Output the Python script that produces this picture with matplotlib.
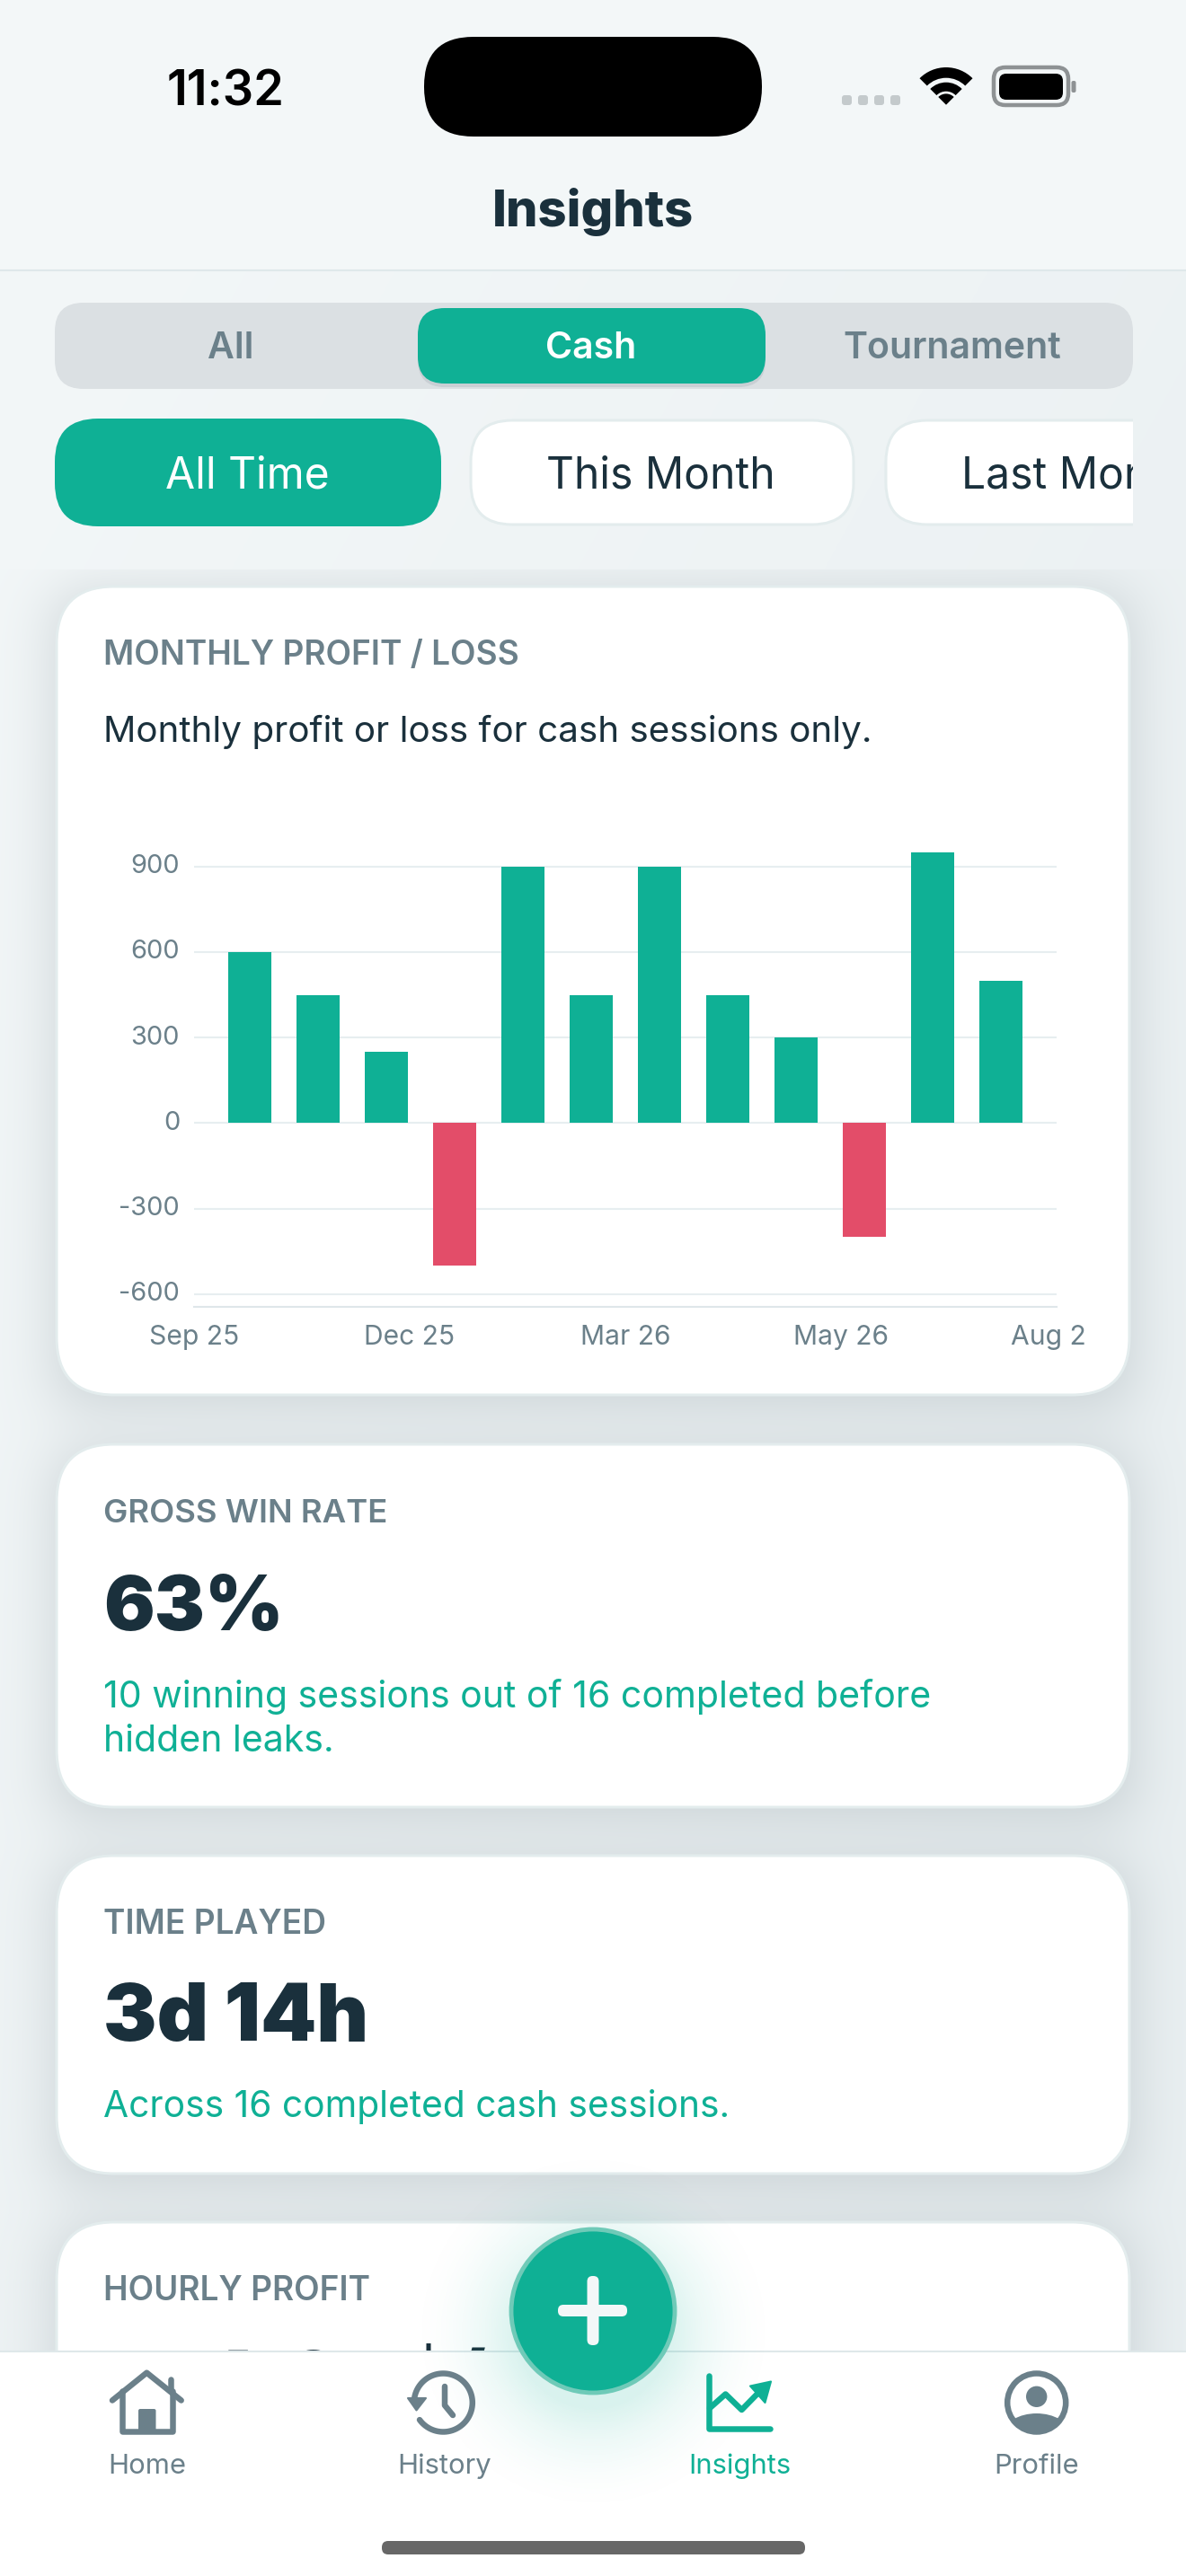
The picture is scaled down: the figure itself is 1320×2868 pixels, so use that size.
"""
Insights screen: monthly profit / loss for cash sessions.
"""
import math
import numpy as np
import matplotlib
matplotlib.use("Agg")
import matplotlib.pyplot as plt
from matplotlib.patches import Circle, Ellipse, FancyBboxPatch, Polygon, Rectangle, Wedge
from matplotlib.transforms import Bbox, ScaledTranslation

# -----------------------------
# Data
# -----------------------------
months = ["Sep 25", "Oct 25", "Nov 25", "Dec 25", "Jan 26", "Feb 26",
          "Mar 26", "Apr 26", "May 26", "Jun 26", "Jul 26", "Aug 26"]
profit = [600, 450, 250, -500, 900, 450, 900, 450, 300, -400, 950, 500]
y_ticks = [-600, -300, 0, 300, 600, 900]
x_labels = ["Sep 25", "Dec 25", "Mar 26", "May 26", "Aug 26"]
segments = ["All", "Cash", "Tournament"]
chips = ["All Time", "This Month", "Last Month"]
tabs = ["Home", "History", "Insights", "Profile"]

TEAL = "#0fb095"
RED = "#e34d69"
DARK = "#1a303c"
GREY = "#6b808a"
LINE = "#e3eced"
FONT = "Inter"

plt.rcParams["font.family"] = [FONT, "DejaVu Sans"]

fig = plt.figure(figsize=(13.2, 28.68), dpi=100, facecolor="#f3f7f8")
ax = fig.add_axes([0, 0, 1, 1])
ax.axis("off")


def pill(x0, y0, x1, y1, r, fc, ec="none", lw=0, z=3):
    p = FancyBboxPatch((x0 + r, y0 + r), x1 - x0 - 2 * r, y1 - y0 - 2 * r,
                       boxstyle=f"round,pad={r},rounding_size={r}",
                       fc=fc, ec=ec, lw=lw * 0.72, zorder=z, mutation_aspect=1)
    ax.add_patch(p)
    return p


def put(x, y, s, px, color=DARK, weight="normal", ha="left", z=6, va="baseline"):
    return ax.text(x, y, s, fontsize=px * 0.72, color=color, fontweight=weight,
                   ha=ha, va=va, zorder=z)


def stroke(xs, ys, color, lw=6.5, z=9):
    ax.plot(xs, ys, color=color, lw=lw * 0.72, solid_capstyle="round",
            solid_joinstyle="round", zorder=z)


# -----------------------------
# Background and card shadows
# -----------------------------
W, H = 1320, 2868
cards = [(63, 653, 1257, 1553), (63, 1608, 1257, 2012),
         (63, 2066, 1257, 2420), (63, 2474, 1257, 2760)]

xx = np.arange(W) + 0.5
yy = np.arange(H) + 0.5
erf = np.vectorize(math.erf)


def soft_edge(t, s):
    return 0.5 * (1 + erf(t / (s * math.sqrt(2))))


tx = xx / W
ty = (yy - 301) / (H - 301)
mix = np.clip(0.6 * tx[None, :] + 0.4 * ty[:, None] * 1.6, 0, 1)
mix[:301, :] = 0
c0 = np.array([0xf3, 0xf7, 0xf8]) / 255
c1 = np.array([0xe9, 0xef, 0xf1]) / 255
bg = c0[None, None, :] * (1 - mix[..., None]) + c1[None, None, :] * mix[..., None]

sigma, offset, strength = 32, 10, 0.17
keep = np.ones((H, W))
for x0, y0, x1, y1 in cards:
    mx = soft_edge(xx - x0, sigma) * soft_edge(x1 - xx, sigma)
    my = soft_edge(yy - y0 - offset, sigma) * soft_edge(y1 + offset - yy, sigma)
    keep *= 1 - strength * my[:, None] * mx[None, :]
keep[:634, :] = 1
shadow = np.array([0x1a, 0x30, 0x3c]) / 255
bg = bg * keep[..., None] + shadow[None, None, :] * (1 - keep[..., None])
ax.imshow(bg, extent=(0, W, H, 0), aspect="auto", zorder=0, interpolation="nearest")

ax.set_xlim(0, W)
ax.set_ylim(H, 0)

# шапка
ax.add_patch(Rectangle((0, 0), W, 301, fc="#f3f7f8", ec="none", zorder=1))
ax.plot([0, W], [301, 301], color="#dfe8ea", lw=1.5, zorder=2)

put(251, 118, "11:32", 54, color="black", weight="semibold", ha="center")
pill(472, 41, 848, 152, 55, "black")
for dx in (937, 955, 973, 991):
    pill(dx, 106, dx + 11, 117, 3, "#c4cacc")
for r_out, r_in in ((41.7, 30), (25, 15), (12.3, 0)):
    ax.add_patch(Wedge((1053, 116.7), r_out, 225, 315, width=r_out - r_in,
                       fc="black", ec="none", zorder=4))
pill(1106, 75, 1189, 117, 13, "none", ec="#8e9294", lw=4.5)
pill(1112, 82, 1183, 111, 8, "black")
pill(1192.5, 90, 1197.5, 103, 2, "#8e9294")

put(660, 252, "Insights", 56, weight="heavy", ha="center")

# -----------------------------
# Segmented control and chips
# -----------------------------
pill(61, 337, 1261, 433, 32, "#dbe0e3")
pill(465, 347, 852, 431, 30, "#c9cfd4", z=3)
pill(465, 343, 852, 427, 30, TEAL, z=4)
for cx, label in zip((257, 658, 1060), segments):
    put(cx, 399, label, 41, color="white" if label == "Cash" else GREY,
        weight="semibold", ha="center")

pill(61, 466, 491, 586, 48, TEAL)
pill(524, 468, 950, 584, 46, "white", ec=LINE, lw=3)
last_chip = pill(986, 468, 1320, 584, 46, "white", ec=LINE, lw=3)
clip_rect = Rectangle((0, 0), 1261, H, transform=ax.transData)
last_chip.set_clip_path(clip_rect)
put(275, 543, chips[0], 48, color="white", ha="center")
put(735, 543, chips[1], 48, ha="center")
t = put(1070, 543, chips[2], 48)
t.set_clip_on(True)
t.set_clip_path(clip_rect)

# -----------------------------
# Cards
# -----------------------------
for x0, y0, x1, y1 in cards:
    pill(x0, y0, x1, y1, 64, "white", ec=LINE, lw=3)

put(115, 740, "MONTHLY PROFIT / LOSS", 37, color=GREY, weight="semibold")
put(115, 826, "Monthly profit or loss for cash sessions only.", 40.4)

put(115, 1695, "GROSS WIN RATE", 36.5, color=GREY, weight="semibold")
put(115, 1815, "63%", 84, weight="black")
put(115, 1900.7, "10 winning sessions out of 16 completed before", 41, color=TEAL)
put(115, 1950, "hidden leaks.", 41, color=TEAL)

put(115, 2153, "TIME PLAYED", 37, color=GREY, weight="semibold")
put(115, 2272, "3d 14h", 89, weight="black")
put(115, 2357, "Across 16 completed cash sessions.", 40.7, color=TEAL)

put(115, 2560.6, "HOURLY PROFIT", 37, color=GREY, weight="semibold")
put(115, 2680, "+74.07 $/h", 86, weight="black")

# -----------------------------
# Bottom bar
# -----------------------------
ax.add_patch(Rectangle((0, 2618), W, H - 2618, fc="white", ec="none", zorder=7))
ax.plot([0, W], [2618, 2618], color="#dfe8ea", lw=1.5, zorder=7.5)

gx, gy = np.meshgrid(np.arange(430, 891), np.arange(2360, 2821))
dist = np.hypot(gx - 660, gy - 2595)
glow = np.zeros(gx.shape + (4,))
glow[..., :3] = matplotlib.colors.to_rgb(TEAL)
glow[..., 3] = 0.16 * np.clip(1 - (dist - 85) / 130, 0, 1) ** 2.2
ax.imshow(glow, extent=(430, 891, 2821, 2360), aspect="auto", zorder=8)
ax.set_xlim(0, W)
ax.set_ylim(H, 0)

ax.add_patch(Circle((660, 2573), 91, fc=TEAL, ec="#6fcab8", lw=3.5, zorder=10))
pill(653.5, 2534, 666.5, 2611, 6, "#f3f7f8", z=11)
pill(621, 2566, 698, 2579, 6, "#f3f7f8", z=11)

# Home
stroke([125, 163.3, 201.7], [2672.5, 2641.7, 2672.5], GREY)
stroke([136, 136, 192, 192], [2662, 2707, 2707, 2662], GREY)
stroke([190, 190], [2649, 2660], GREY)
pill(154, 2682, 173.5, 2708, 2, GREY, z=9)

# History
arc = np.radians(np.linspace(216, 530, 80))
stroke(493.3 + 32.5 * np.cos(arc), 2675 - 32.5 * np.sin(arc), GREY)
ax.add_patch(Polygon([(454, 2670), (474, 2670), (463.5, 2683.5)], closed=True,
                     fc=GREY, ec=GREY, lw=1.5, joinstyle="round", zorder=9))
stroke([495, 495, 504], [2657, 2678, 2689], GREY)

# Insights
stroke([789, 789, 857], [2645, 2704, 2704], TEAL)
stroke([790, 807.5, 825.5, 848], [2681, 2665.5, 2683, 2660], TEAL)
ax.add_patch(Polygon([(835, 2656.5), (858, 2651.5), (851.5, 2675)], closed=True,
                     fc=TEAL, ec=TEAL, lw=1.5, joinstyle="round", zorder=9))

# Profile
ring = Circle((1153.7, 2675), 32.5, fc="white", ec=GREY, lw=6.5 * 0.72, zorder=9)
ax.add_patch(ring)
ax.add_patch(Circle((1153.7, 2668.3), 11.7, fc=GREY, ec="none", zorder=10))
body = Ellipse((1153.7, 2709), 72, 44, fc=GREY, ec="none", zorder=10)
ax.add_patch(body)
body.set_clip_path(Circle((1153.7, 2675), 34, transform=ax.transData))

for cx, label in zip((163.7, 495, 823, 1154), tabs):
    put(cx, 2754, label, 31, color=TEAL if label == "Insights" else GREY, ha="center", z=9)

pill(425, 2829, 896, 2844, 7, "#676767", z=9)

# -----------------------------
# Bar chart
# -----------------------------
PX_PER_UNIT = (1440.8 - 964.6) / 1500
zero_px = 1250.4
y_low, y_high = -645, 960
top_px = zero_px - y_high * PX_PER_UNIT
bot_px = zero_px - y_low * PX_PER_UNIT
left_px, right_px = 216, 1176

chart = fig.add_axes([left_px / W, 1 - bot_px / H, (right_px - left_px) / W, (bot_px - top_px) / H],
                     zorder=2)
chart.patch.set_visible(False)

x = np.arange(len(months))
band = 76
x_low = (left_px - 278) / band
x_high = (right_px - 278) / band
colors = [TEAL if v >= 0 else RED for v in profit]
chart.bar(x, profit, width=0.625, color=colors, zorder=3)

chart.set_xlim(x_low, x_high)
chart.set_ylim(y_low, y_high)
chart.set_yticks(y_ticks)
chart.set_yticklabels([str(v) for v in y_ticks])
chart.set_xticks(np.linspace(x_low, x_high, len(x_labels)))
chart.set_xticklabels(x_labels)
chart.grid(axis="y", color="#e7eef0", lw=1.5, zorder=1)
chart.set_axisbelow(True)
for name in ("top", "left", "right"):
    chart.spines[name].set_visible(False)
chart.spines["bottom"].set_color("#dfe7ea")
chart.spines["bottom"].set_linewidth(1.5)
chart.tick_params(axis="y", length=0, labelcolor=GREY, labelsize=29 * 0.72, pad=16 * 0.72)
chart.tick_params(axis="x", length=0, labelcolor=GREY, labelsize=30 * 0.72, pad=20 * 0.72)
lift = ScaledTranslation(0, 3 / 100, fig.dpi_scale_trans)
for lab in chart.get_yticklabels():
    lab.set_transform(lab.get_transform() + lift)
# последняя подпись обрезана контейнером графика
edge = Bbox([[0, 0], [1207, H]])
for lab in chart.get_xticklabels():
    lab.set_clip_on(True)
    lab.set_clip_box(edge)

fig.savefig("out.png", dpi=100)
